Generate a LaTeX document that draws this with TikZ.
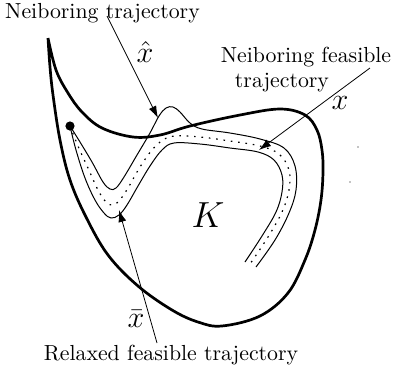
\documentclass[tikz,border=0pt]{standalone}
\usetikzlibrary{arrows.meta}
\begin{document}
\begin{tikzpicture}[x=0.5pt,y=-0.5pt,
  boundary/.style={line width=1.35pt, line join=round},
  thinline/.style={line width=0.5pt},
  centerline/.style={line width=0.6pt, dash pattern=on 0.8pt off 2.9pt},
  pointer/.style={line width=0.4pt, -{Latex[length=6pt,width=4pt]}},
  lbl/.style={inner sep=0pt, anchor=base, scale=1.09},
  mlbl/.style={inner sep=0pt, scale=1.05}]
\useasboundingbox (0,0) rectangle (393,372);
% set K
\draw[boundary] plot[smooth, tension=0.6] coordinates {(48,38) (56,70) (68,93) (82,112) (102,128) (133,137) (160,135) (190,126) (240,115) (280,109) (305,115) (317,130) (322,150) (323,172) (321,200) (315,230) (305,260) (288,293) (260,316) (222,326) (198,322) (172,310) (138,286) (108,255) (86,217) (70,180) (60,140) (53,95) (50,67) (48,38)};
% trajectories
\draw[thinline] plot[smooth, tension=0.6] coordinates {(70,126) (80,142) (92,162) (103,182) (110,189) (116,188) (124,177) (137,155) (150,133) (159,116) (166,108) (173,107) (180,112) (190,123) (202,129) (230,133) (260,139) (284,148) (295,166) (296,190) (289,213) (275,240) (256,267)};
\draw[centerline] plot[smooth, tension=0.6] coordinates {(70,126) (78,146) (88,168) (98,190) (106,202) (112,205) (119,201) (128,188) (140,167) (152,150) (163,140) (175,136) (200,137) (230,141) (260,146) (279,154) (289,170) (289,190) (282,212) (268,237) (250,264)};
\draw[thinline] plot[smooth, tension=0.6] coordinates {(70,126) (76,150) (85,178) (95,200) (104,213) (111,218) (119,215) (127,205) (138,186) (150,166) (162,150) (174,143) (200,144) (230,148) (258,152) (274,160) (282,175) (282,192) (276,212) (262,236) (245,262)};
\coordinate (start) at (70,126);
\fill (start) circle[radius=2.3pt];
% labels
\node[lbl] (nt) at (102.5,18) {Neiboring trajectory};
\node[lbl] (nf1) at (306,62) {Neiboring feasible};
\node[lbl] (nf2) at (282,87) {trajectory};
\node[lbl] (rf) at (171,360) {Relaxed feasible trajectory};
\node[mlbl] (xhat) at (145,52) {\Large $\hat{x}$};
\node[mlbl] (xlab) at (340,103) {\Large $x$};
\node[mlbl] (xbar) at (136,319) {\Large $\bar{x}$};
\node[mlbl] (K) at (208,215) {\LARGE $K$};
% arrows
\coordinate (s1) at (107,16);
\coordinate (t1) at (158,118);
\coordinate (s2) at (370,68);
\coordinate (t2) at (259,150);
\coordinate (s3) at (157,343);
\coordinate (t3) at (119,210);
\draw[pointer] (s1) -- (t1);
\draw[pointer] (s2) -- (t2);
\draw[pointer] (s3) -- (t3);
% specks
\coordinate (sp1) at (358,147);
\coordinate (sp2) at (350,182);
\fill (sp1) circle[radius=0.35pt];
\fill (sp2) circle[radius=0.35pt];
\end{tikzpicture}
\end{document}
